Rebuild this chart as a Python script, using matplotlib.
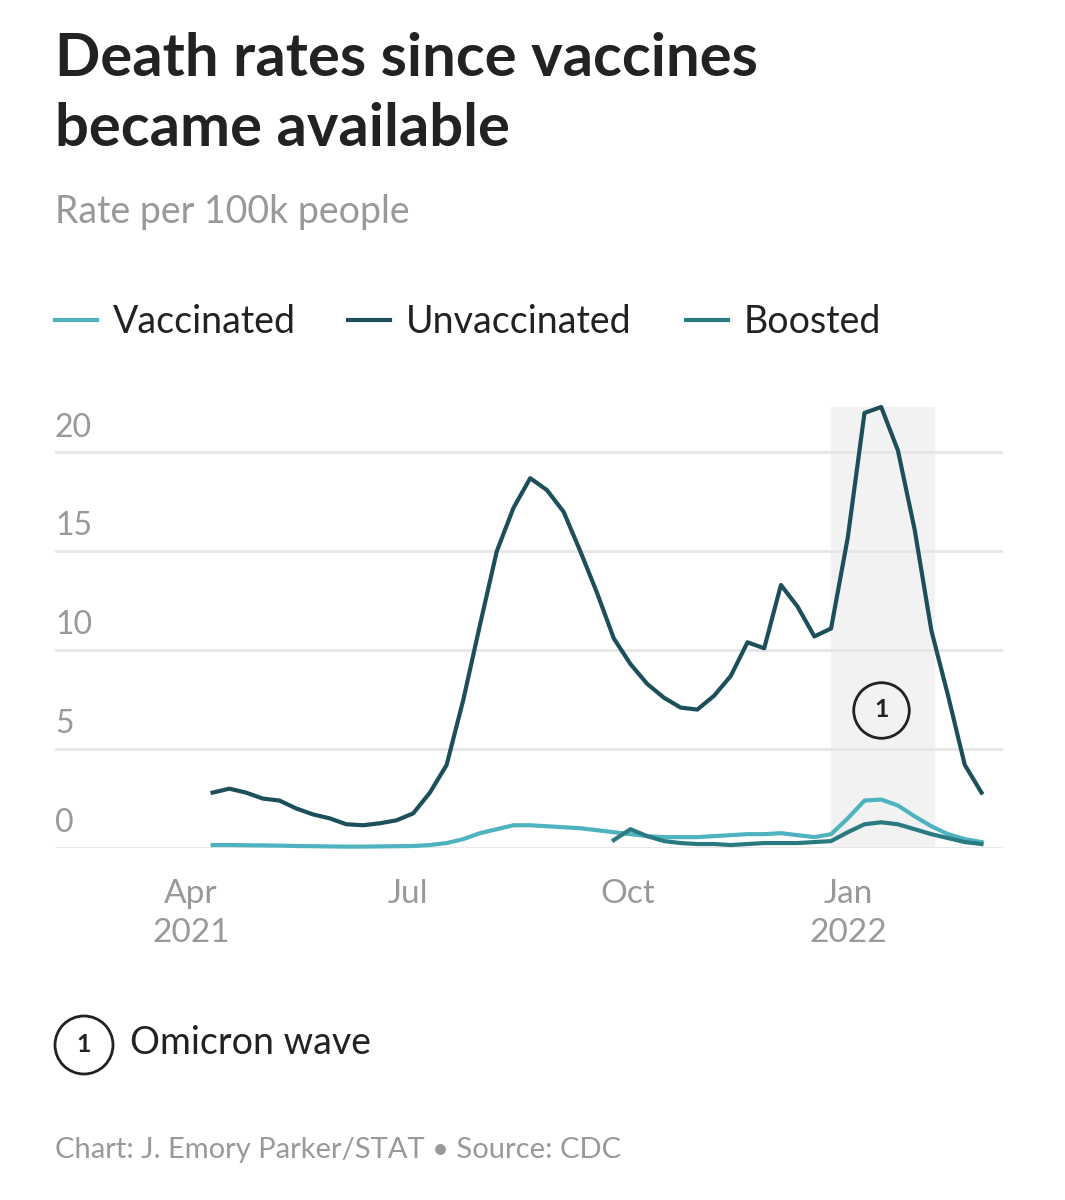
import matplotlib
matplotlib.use("Agg")
import matplotlib.pyplot as plt
import matplotlib.dates as mdates
import numpy as np
import datetime as dt

start = dt.date(2021, 4, 10)
dates = [start + dt.timedelta(days=7*i) for i in range(47)]
unvaccinated = [2.8,3.0,2.8,2.5,2.4,2.0,1.7,1.5,1.2,1.15,1.25,1.4,1.75,2.8,4.2,7.5,11.3,15.0,17.2,18.7,
                18.1,17.0,15.0,12.9,10.6,9.3,8.3,7.6,7.1,7.0,7.7,8.7,10.4,10.1,13.3,12.2,10.7,11.1,15.7,22.0,
                22.3,20.1,16.1,11.0,7.7,4.2,2.8]
vaccinated = [0.15,0.15,0.14,0.13,0.12,0.1,0.09,0.08,0.07,0.07,0.08,0.09,0.1,0.15,0.25,
              0.45,0.75,0.95,1.15,1.15,1.1,1.05,1.0,0.9,0.8,0.7,0.6,0.55,0.55,0.55,0.6,0.65,0.7,0.7,0.75,
              0.65,0.55,0.7,1.5,2.4,2.45,2.15,1.6,1.1,0.7,0.45,0.3]
boosted = [0.4,0.95,0.6,0.35,0.25,0.2,0.2,0.15,0.2,0.25,0.25,0.25,0.3,0.35,0.8,1.2,1.3,1.2,0.95,0.7,0.5,0.3,0.2]
boost_dates = dates[24:]
yticks = [0, 5, 10, 15, 20]
xticks = [dt.date(2021,4,1), dt.date(2021,7,1), dt.date(2021,10,1), dt.date(2022,1,1)]
xlabels = ["Apr\n2021", "Jul", "Oct", "Jan\n2022"]

c_vac, c_unv, c_boo = "#4fb3bf", "#1d4f5a", "#2a7a82"
plt.rcParams["font.family"] = "Lato"
fig = plt.figure(figsize=(10.65, 12), dpi=100)
ax = fig.add_axes([55/1065, 1-848/1200, (1003-55)/1065, (848-407)/1200])
ax.set_xlim(dt.date(2021,2,3), dt.date(2022,3,7))
ax.set_ylim(0, 22.3)
ax.axvspan(dt.date(2021,12,25), dt.date(2022,2,6), color="#f2f2f2", zorder=0)
for y in yticks:
    ax.axhline(y, color="#e6e6e6", lw=2, zorder=1)
    ax.text(0, y+0.5, str(y), transform=ax.get_yaxis_transform(), fontsize=23, color="#999999", va="bottom", ha="left")
ax.plot(dates, vaccinated, color=c_vac, lw=3, clip_on=False, zorder=3)
ax.plot(dates, unvaccinated, color=c_unv, lw=3, clip_on=False, zorder=4)
ax.plot(boost_dates, boosted, color=c_boo, lw=3, clip_on=False, zorder=3)
ax.plot([dt.date(2022,1,15)], [7], marker="o", ms=40, mfc="none", mec="#222222", mew=2, zorder=5)
ax.text(dt.date(2022,1,15), 7, "1", ha="center", va="center", fontsize=18, fontweight="bold", color="#222222", zorder=6)
ax.set_yticks([])
ax.set_xticks(xticks)
ax.set_xticklabels(xlabels, fontsize=24, color="#999999", linespacing=1.4)
ax.tick_params(axis="x", length=0, pad=22)
for s in ax.spines.values():
    s.set_visible(False)

fig.text(55/1065, 1-94/1200, "Death rates since vaccines\nbecame available", fontsize=43, fontweight="bold",
         color="#222222", va="center", ha="left", linespacing=1.35)
fig.text(55/1065, 1-212/1200, "Rate per 100k people", fontsize=27, color="#999999", va="center")
legend = [("Vaccinated", c_vac, 55), ("Unvaccinated", c_unv, 348), ("Boosted", c_boo, 686)]
for lab, col, x in legend:
    fig.add_artist(plt.Line2D([x/1065, (x+42)/1065], [1-320/1200]*2, color=col, lw=3))
    fig.text((x+58)/1065, 1-322/1200, lab, fontsize=27, color="#222222", va="center")
fig.add_artist(matplotlib.patches.Ellipse((84/1065, 1-1045/1200), 58/1065, 58/1200, fill=False, ec="#222222", lw=2))
fig.text(84/1065, 1-1045/1200, "1", fontsize=18, fontweight="bold", ha="center", va="center", color="#222222")
fig.text(130/1065, 1-1043/1200, "Omicron wave", fontsize=27, color="#222222", va="center")
fig.text(55/1065, 1-1150/1200, "Chart: J. Emory Parker/STAT • Source: CDC", fontsize=21, color="#999999", va="center")
fig.savefig("out.png", dpi=100, facecolor="white")
